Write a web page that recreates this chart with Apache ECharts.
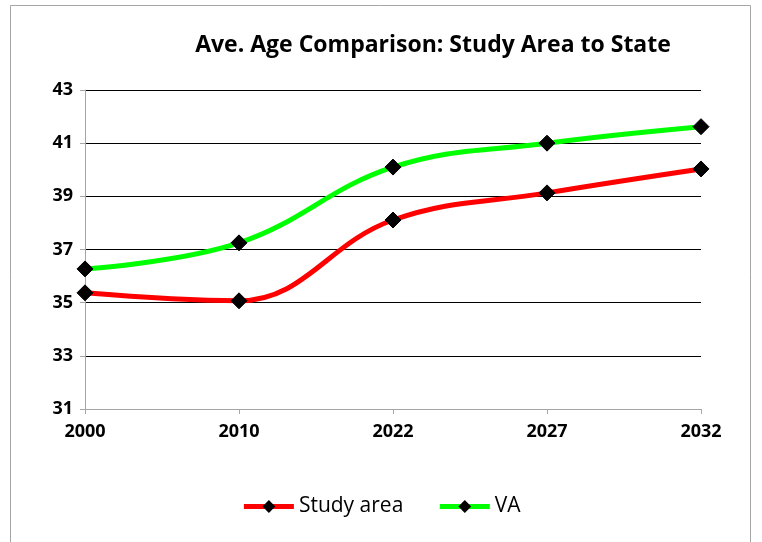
<!DOCTYPE html>
<html><head><meta charset="utf-8">
<script src="https://cdn.jsdelivr.net/npm/echarts@6/dist/echarts.min.js"></script>
<style>html,body{margin:0;padding:0;background:#fff}#c{width:762px;height:542px}</style>
</head><body><div id="c"></div>
<script>
const years = ['2000','2010','2022','2027','2032'];
const studyArea = [35.37, 35.07, 38.11, 39.13, 40.03];
const va = [36.27, 37.25, 40.1, 41.0, 41.62];
const yTicks = [31, 33, 35, 37, 39, 41, 43];

const chart = echarts.init(document.getElementById('c'));
const font = '"Open Sans", "Noto Sans", sans-serif';
chart.setOption({
  animation: false,
  graphic: [{type:'rect', shape:{x:10.5,y:5.5,width:740,height:545}, style:{fill:'none', stroke:'#a6a6a6', lineWidth:1}}],
  title: {text:'Ave. Age Comparison: Study Area to State', left:428, top:29, textAlign:'center',
    textStyle:{fontFamily:font, fontSize:23, fontWeight:'bold', color:'#000'}},
  grid: {left:85, right:61, top:90, bottom:133, containLabel:false},
  legend: {bottom:20, left:'center', itemWidth:50, itemHeight:16, itemGap:34,
    textStyle:{fontFamily:font, fontSize:21, color:'#000'},
    lineStyle:{width:5},
    data:[{name:'Study area'},{name:'VA'}]},
  xAxis: {type:'category', data:years, boundaryGap:false,
    axisLine:{lineStyle:{color:'#a6a6a6'}},
    axisTick:{show:true, alignWithLabel:true, length:5, lineStyle:{color:'#a6a6a6'}},
    axisLabel:{fontFamily:font, fontSize:18, fontWeight:'bold', color:'#000', margin:14}},
  yAxis: {type:'value', min:yTicks[0], max:yTicks[yTicks.length-1], interval:2,
    axisLine:{show:true, lineStyle:{color:'#a6a6a6'}},
    axisTick:{show:true, length:5, lineStyle:{color:'#a6a6a6'}},
    splitLine:{lineStyle:{color:'#000', width:1}},
    axisLabel:{fontFamily:font, fontSize:18, fontWeight:'bold', color:'#000', margin:12}},
  series: [
    {name:'Study area', type:'line', data:studyArea, smooth:0.4, symbol:'diamond', symbolSize:16,
      lineStyle:{color:'#ff0000', width:5}, itemStyle:{color:'#000', borderColor:'#000'}, z:3},
    {name:'VA', type:'line', data:va, smooth:0.4, symbol:'diamond', symbolSize:16,
      lineStyle:{color:'#00ff00', width:5}, itemStyle:{color:'#000', borderColor:'#000'}, z:3}
  ]
});
</script></body></html>
